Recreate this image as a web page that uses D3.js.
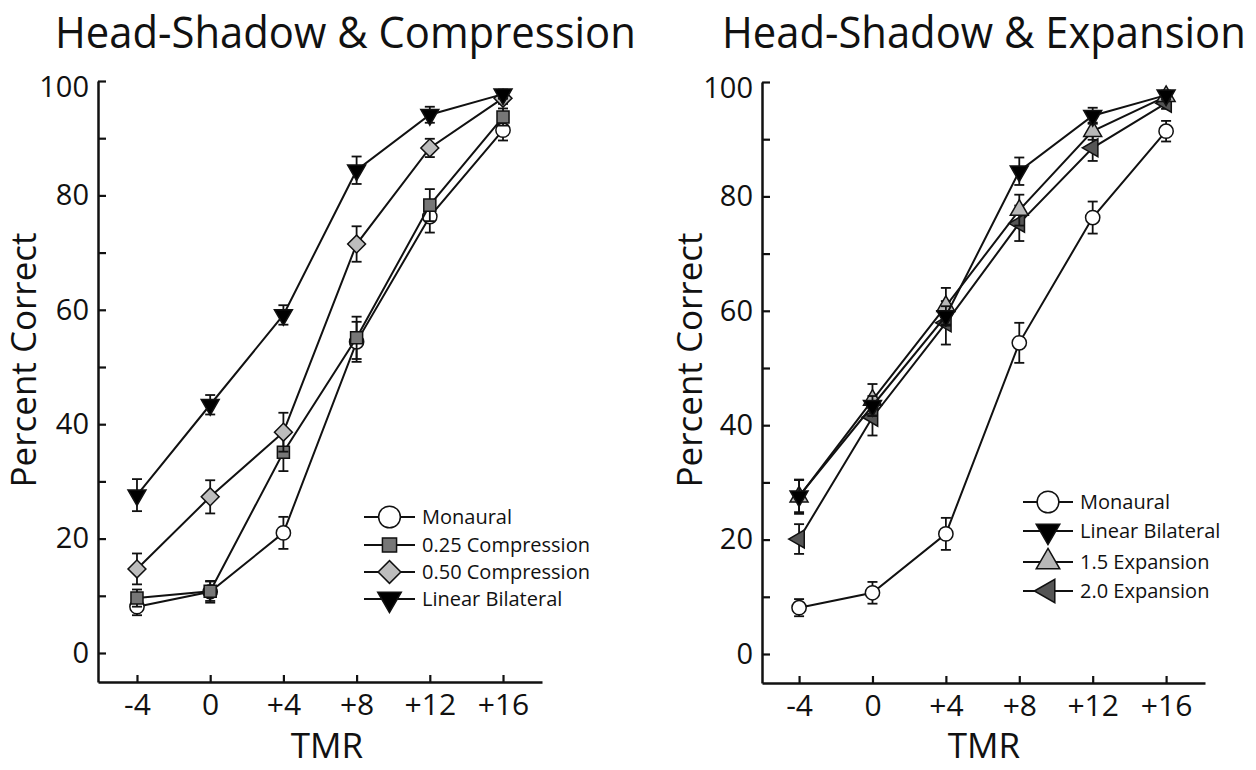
<!DOCTYPE html>
<html>
<head>
<meta charset="utf-8">
<script src="https://cdn.jsdelivr.net/npm/d3@7"></script>
<style>
  html, body { margin: 0; padding: 0; background: #fff; }
  svg { display: block; }
  text { font-family: "Open Sans", "Noto Sans", sans-serif; fill: #111; }
</style>
</head>
<body>
<svg id="chart" width="1256" height="770"></svg>
<script>
// ---------------- data ----------------
const tmr = [-4, 0, 4, 8, 12, 16];
const tmrLabels = ["-4", "0", "+4", "+8", "+12", "+16"];
const yTicks = [0, 10, 20, 30, 40, 50, 60, 70, 80, 90, 100];

const monaural    = [8.1, 10.7, 21.0, 54.4, 76.3, 91.4];
const monauralErr = [1.5, 1.9, 2.8, 3.5, 2.8, 1.8];
const comp025     = [9.6, 10.8, 35.1, 55.1, 78.3, 93.7];
const comp025Err  = [1.5, 1.7, 3.3, 3.7, 2.8, 1.5];
const comp050     = [14.7, 27.3, 38.6, 71.5, 88.3, 97.0];
const comp050Err  = [2.7, 2.9, 3.4, 3.1, 1.6, 1.0];
const linearBil   = [27.6, 43.4, 59.1, 84.4, 94.1, 97.7];
const linearErr   = [2.8, 1.7, 1.7, 2.4, 1.4, 0.8];
const exp15       = [27.5, 44.4, 60.8, 77.6, 91.4, 97.5];
const exp15Err    = [3.0, 2.8, 3.2, 2.7, 1.5, 0.8];
const exp20       = [20.1, 41.4, 57.9, 75.3, 88.5, 96.3];
const exp20Err    = [2.6, 3.2, 3.8, 3.1, 2.3, 1.0];

const titles = ["Head-Shadow & Compression", "Head-Shadow & Expansion"];
const yTitle = "Percent Correct";
const xTitle = "TMR";

// ---------------- styles ----------------
const styles = {
  "Monaural":          {sym: d3.symbolCircle,   rot: 0,   fill: "#ffffff", size: 160, lsize: 370},
  "0.25 Compression":  {sym: d3.symbolSquare,   rot: 0,   fill: "#777777", size: 145, lsize: 200},
  "0.50 Compression":  {sym: d3.symbolSquare,   rot: 45,  fill: "#bdbdbd", size: 160, lsize: 260},
  "Linear Bilateral":  {sym: d3.symbolTriangle, rot: 180, fill: "#000000", size: 140, lsize: 240},
  "1.5 Expansion":     {sym: d3.symbolTriangle, rot: 0,   fill: "#b8b8b8", size: 140, lsize: 240},
  "2.0 Expansion":     {sym: d3.symbolTriangle, rot: -90, fill: "#555555", size: 140, lsize: 240}
};

const panels = [
  {
    title: titles[0], titleX: [55, 636],
    xRange: [98, 542], xDomain: [-6.13, 18.13],
    yRange: [682, 81], yLabelX: 24,
    series: [
      {name: "Monaural", vals: monaural, err: monauralErr},
      {name: "0.25 Compression", vals: comp025, err: comp025Err},
      {name: "0.50 Compression", vals: comp050, err: comp050Err},
      {name: "Linear Bilateral", vals: linearBil, err: linearErr}
    ],
    legend: {x0: 364, x1: 415, tx: 422, rows: [517, 545, 572, 599],
             order: ["Monaural", "0.25 Compression", "0.50 Compression", "Linear Bilateral"]},
    xTitleX: 327
  },
  {
    title: titles[1], titleX: [722, 1246],
    xRange: [762, 1205], xDomain: [-6.02, 18.12],
    yRange: [683, 82], yLabelX: 690,
    series: [
      {name: "Monaural", vals: monaural, err: monauralErr},
      {name: "2.0 Expansion", vals: exp20, err: exp20Err},
      {name: "1.5 Expansion", vals: exp15, err: exp15Err},
      {name: "Linear Bilateral", vals: linearBil, err: linearErr}
    ],
    legend: {x0: 1023, x1: 1073, tx: 1080, rows: [502, 531, 562, 591],
             order: ["Monaural", "Linear Bilateral", "1.5 Expansion", "2.0 Expansion"]},
    xTitleX: 984
  }
];

const svg = d3.select("#chart");

panels.forEach(p => {
  const g = svg.append("g");
  const x = d3.scaleLinear().domain(p.xDomain).range(p.xRange);
  const y = d3.scaleLinear().domain([-5.07, 100]).range(p.yRange);

  // title (condensed horizontally to the reference width)
  const tg = g.append("g");
  const tt = tg.append("text")
    .attr("x", 0).attr("y", 0)
    .attr("font-size", 43)
    .text(p.title);
  const natural = tt.node().getComputedTextLength();
  const sx = (p.titleX[1] - p.titleX[0]) / natural;
  tg.attr("transform", `translate(${p.titleX[0]},48) scale(${sx},1)`);

  // y axis
  const yAxis = d3.axisLeft(y)
    .tickValues(yTicks)
    .tickSizeInner(-8).tickSizeOuter(0).tickPadding(9)
    .tickFormat(d => d % 20 === 0 ? String(d) : "");
  const ya = g.append("g").attr("transform", `translate(${p.xRange[0]},0)`).call(yAxis);
  ya.select(".domain").attr("stroke", "#111").attr("stroke-width", 2.5);
  ya.selectAll(".tick line").attr("stroke", "#111").attr("stroke-width", 2.2);
  ya.selectAll(".tick text")
    .attr("font-size", 29).attr("font-family", "'Open Sans', sans-serif").attr("fill", "#111")
    .attr("dy", d => d === 100 ? "0.55em" : "0.32em");

  // x axis
  const xAxis = d3.axisBottom(x)
    .tickValues(tmr)
    .tickSizeInner(-7).tickSizeOuter(0).tickPadding(12)
    .tickFormat((d, i) => tmrLabels[i]);
  const xa = g.append("g").attr("transform", `translate(0,${p.yRange[0]})`).call(xAxis);
  xa.select(".domain").attr("stroke", "#111").attr("stroke-width", 2.5);
  xa.selectAll(".tick line").attr("stroke", "#111").attr("stroke-width", 2.2);
  xa.selectAll(".tick text")
    .attr("font-size", 30).attr("font-family", "'Open Sans', sans-serif").attr("fill", "#111");

  // axis titles
  g.append("text")
    .attr("transform", `translate(${p.yLabelX + 12},360) rotate(-90)`)
    .attr("text-anchor", "middle")
    .attr("font-size", 35)
    .text(yTitle);
  g.append("text")
    .attr("x", p.xTitleX).attr("y", 758)
    .attr("text-anchor", "middle")
    .attr("font-size", 35)
    .text(xTitle);

  // series
  const line = d3.line().x((d, i) => x(tmr[i])).y(d => y(d));
  p.series.forEach(s => {
    const st = styles[s.name];
    const sg = g.append("g");
    sg.append("path").datum(s.vals)
      .attr("d", line).attr("fill", "none")
      .attr("stroke", "#111").attr("stroke-width", 2);
    // error bars
    const eb = sg.selectAll(".eb").data(s.vals).enter().append("g");
    eb.append("line")
      .attr("x1", (d, i) => x(tmr[i])).attr("x2", (d, i) => x(tmr[i]))
      .attr("y1", (d, i) => y(d - s.err[i])).attr("y2", (d, i) => y(d + s.err[i]))
      .attr("stroke", "#111").attr("stroke-width", 1.8);
    [-1, 1].forEach(sgn => {
      eb.append("line")
        .attr("x1", (d, i) => x(tmr[i]) - 5).attr("x2", (d, i) => x(tmr[i]) + 5)
        .attr("y1", (d, i) => y(d + sgn * s.err[i])).attr("y2", (d, i) => y(d + sgn * s.err[i]))
        .attr("stroke", "#111").attr("stroke-width", 1.8);
    });
    // markers
    sg.selectAll(".mk").data(s.vals).enter().append("path")
      .attr("d", d3.symbol().type(st.sym).size(st.size))
      .attr("transform", (d, i) => `translate(${x(tmr[i])},${y(d)}) rotate(${st.rot})`)
      .attr("fill", st.fill).attr("stroke", "#111").attr("stroke-width", 1.5);
  });

  // legend
  const L = p.legend;
  const lg = g.append("g");
  L.order.forEach((name, k) => {
    const st = styles[name];
    const yy = L.rows[k];
    lg.append("line").attr("x1", L.x0).attr("x2", L.x1).attr("y1", yy).attr("y2", yy)
      .attr("stroke", "#111").attr("stroke-width", 2);
    lg.append("path")
      .attr("d", d3.symbol().type(st.sym).size(st.lsize))
      .attr("transform", `translate(${(L.x0 + L.x1) / 2},${yy}) rotate(${st.rot})`)
      .attr("fill", st.fill).attr("stroke", "#111").attr("stroke-width", 1.5);
    lg.append("text").attr("x", L.tx).attr("y", yy).attr("dy", "0.35em")
      .attr("font-size", 20).text(name);
  });
});
</script>
</body>
</html>
